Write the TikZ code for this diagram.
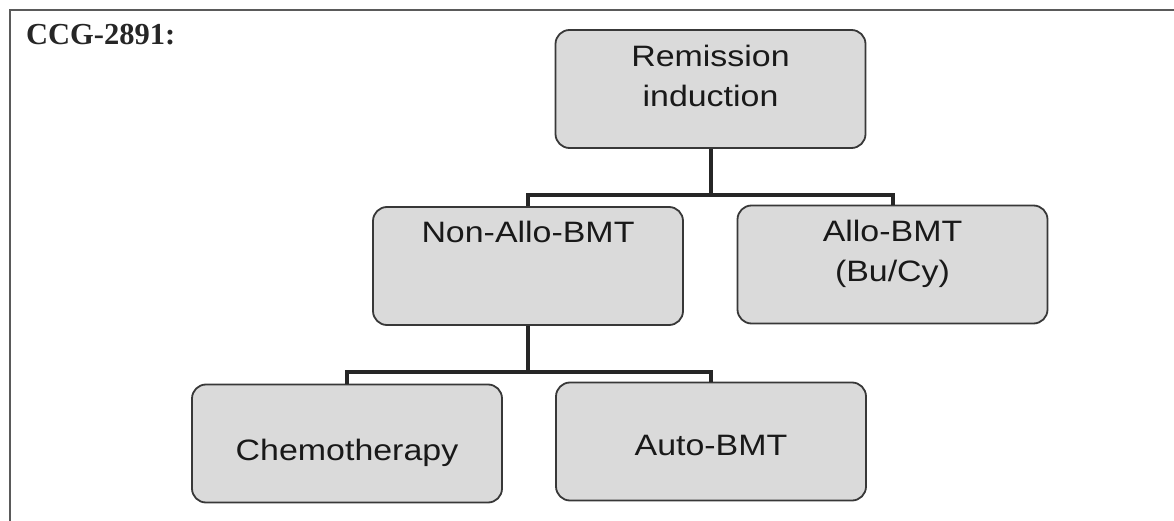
\documentclass[tikz,border=0pt]{standalone}
\usepackage{fontspec}
\setmainfont{Liberation Serif}
\newfontfamily\boxfont[FakeStretch=1.15]{Liberation Sans}
\usetikzlibrary{positioning}

\definecolor{boxfill}{HTML}{DADADA}
\definecolor{boxline}{HTML}{383838}
\definecolor{linkcol}{HTML}{262626}
\definecolor{framecol}{HTML}{5A5A5A}

\tikzset{
	treebox/.style={draw=boxline, line width=1.8pt, fill=boxfill, rounded corners=14pt,
		minimum width=310pt, minimum height=118pt, inner sep=0pt},
	boxtext/.style={font=\boxfont\fontsize{29.5}{40}\selectfont, text=black!90, align=center, inner sep=0pt},
	link/.style={draw=linkcol, line width=4pt},
}

\begin{document}
\begin{tikzpicture}[x=1pt, y=-1pt]
				\useasboundingbox (0,0) rectangle (1174,521);
				
				% Draw frame
				\draw[framecol, line width=1.4pt] (10,521) -- (10,10) -- (1174,10);
				\node[anchor=base west, inner sep=0pt, text=black!85, font=\bfseries\fontsize{30.5}{36}\selectfont] (title) at (26,45) {CCG-2891:};
				
				% Draw boxes
				\node[treebox] (remission) at (710.5,89) {};
				\node[treebox] (nonallo) at (528,266) {};
				\node[treebox] (allo) at (892.5,264.5) {};
				\node[treebox] (chemo) at (347,443.5) {};
				\node[treebox] (auto) at (711,441.5) {};
				
				% Labels
				\node[boxtext, below=16pt of remission.north] (remissiontext) {Remission\\induction};
				\node[boxtext, below=15pt of nonallo.north] (nonallotext) {Non-Allo-BMT};
				\node[boxtext, below=15pt of allo.north] (allotext) {Allo-BMT\\(Bu/Cy)};
				\node[boxtext, below=55pt of chemo.north] (chemotext) {Chemotherapy};
				\node[boxtext, below=53pt of auto.north] (autotext) {Auto-BMT};
				
				% Draw connectors
				\coordinate (topbus) at (710.5,195);
				\coordinate (lowbus) at (528,372);
				\draw[link] (remission.south) -- (topbus);
				\draw[link] (nonallo.north) |- (topbus) -| (allo.north);
				\draw[link] (nonallo.south) -- (lowbus);
				\draw[link] (chemo.north) |- (lowbus) -| (auto.north);
			\end{tikzpicture}
\end{document}
